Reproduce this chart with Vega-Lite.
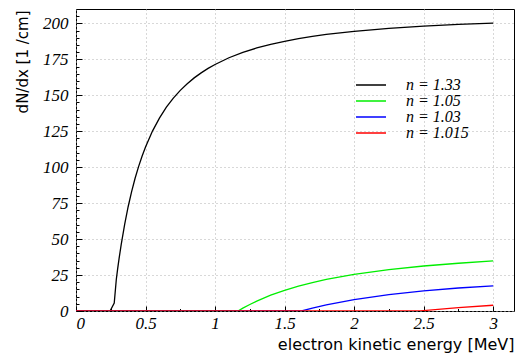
{
  "$schema": "https://vega.github.io/schema/vega-lite/v6.json",
  "width": 438,
  "height": 302,
  "autosize": {"type": "none"},
  "padding": {"left": 76, "top": 9, "right": 1, "bottom": 44},
  "background": "white",
  "config": {
    "view": {"stroke": "#000000", "strokeWidth": 1},
    "axis": {
      "titleFont": "DejaVu Sans",
      "titleFontWeight": "normal",
      "titleColor": "#000000",
      "domain": false,
      "tickColor": "#000000",
      "gridColor": "#b0b0b0",
      "gridDash": [1, 3],
      "gridWidth": 1
    }
  },
  "data": {
    "values": [
      {"n": "n = 1.33", "T": 0.0, "N": 0},
      {"n": "n = 1.33", "T": 0.245, "N": 0},
      {"n": "n = 1.33", "T": 0.275, "N": 5.5},
      {"n": "n = 1.33", "T": 0.29, "N": 22.1},
      {"n": "n = 1.33", "T": 0.3, "N": 29.6},
      {"n": "n = 1.33", "T": 0.31, "N": 36.6},
      {"n": "n = 1.33", "T": 0.325, "N": 46.2},
      {"n": "n = 1.33", "T": 0.35, "N": 60.3},
      {"n": "n = 1.33", "T": 0.375, "N": 72.5},
      {"n": "n = 1.33", "T": 0.4, "N": 83.0},
      {"n": "n = 1.33", "T": 0.425, "N": 92.3},
      {"n": "n = 1.33", "T": 0.45, "N": 100.4},
      {"n": "n = 1.33", "T": 0.475, "N": 107.6},
      {"n": "n = 1.33", "T": 0.5, "N": 114.1},
      {"n": "n = 1.33", "T": 0.55, "N": 125.1},
      {"n": "n = 1.33", "T": 0.6, "N": 134.1},
      {"n": "n = 1.33", "T": 0.65, "N": 141.7},
      {"n": "n = 1.33", "T": 0.7, "N": 148.0},
      {"n": "n = 1.33", "T": 0.75, "N": 153.4},
      {"n": "n = 1.33", "T": 0.8, "N": 158.0},
      {"n": "n = 1.33", "T": 0.85, "N": 162.1},
      {"n": "n = 1.33", "T": 0.9, "N": 165.6},
      {"n": "n = 1.33", "T": 0.95, "N": 168.7},
      {"n": "n = 1.33", "T": 1.0, "N": 171.4},
      {"n": "n = 1.33", "T": 1.1, "N": 176.1},
      {"n": "n = 1.33", "T": 1.2, "N": 179.8},
      {"n": "n = 1.33", "T": 1.3, "N": 182.9},
      {"n": "n = 1.33", "T": 1.4, "N": 185.4},
      {"n": "n = 1.33", "T": 1.5, "N": 187.5},
      {"n": "n = 1.33", "T": 1.6, "N": 189.4},
      {"n": "n = 1.33", "T": 1.7, "N": 190.9},
      {"n": "n = 1.33", "T": 1.8, "N": 192.3},
      {"n": "n = 1.33", "T": 2.0, "N": 194.5},
      {"n": "n = 1.33", "T": 2.25, "N": 196.5},
      {"n": "n = 1.33", "T": 2.5, "N": 198.1},
      {"n": "n = 1.33", "T": 2.75, "N": 199.3},
      {"n": "n = 1.33", "T": 3.0, "N": 200.2},
      {"n": "n = 1.05", "T": 0.0, "N": 0},
      {"n": "n = 1.05", "T": 1.165, "N": 0},
      {"n": "n = 1.05", "T": 1.2, "N": 2.0},
      {"n": "n = 1.05", "T": 1.25, "N": 4.5},
      {"n": "n = 1.05", "T": 1.3, "N": 6.9},
      {"n": "n = 1.05", "T": 1.4, "N": 11.0},
      {"n": "n = 1.05", "T": 1.5, "N": 14.4},
      {"n": "n = 1.05", "T": 1.6, "N": 17.3},
      {"n": "n = 1.05", "T": 1.7, "N": 19.8},
      {"n": "n = 1.05", "T": 1.8, "N": 22.0},
      {"n": "n = 1.05", "T": 2.0, "N": 25.5},
      {"n": "n = 1.05", "T": 2.25, "N": 28.8},
      {"n": "n = 1.05", "T": 2.5, "N": 31.3},
      {"n": "n = 1.05", "T": 2.75, "N": 33.2},
      {"n": "n = 1.05", "T": 3.0, "N": 34.8},
      {"n": "n = 1.03", "T": 0.0, "N": 0},
      {"n": "n = 1.03", "T": 1.622, "N": 0},
      {"n": "n = 1.03", "T": 1.7, "N": 2.0},
      {"n": "n = 1.03", "T": 1.8, "N": 4.2},
      {"n": "n = 1.03", "T": 2.0, "N": 7.9},
      {"n": "n = 1.03", "T": 2.25, "N": 11.4},
      {"n": "n = 1.03", "T": 2.5, "N": 14.0},
      {"n": "n = 1.03", "T": 2.75, "N": 16.0},
      {"n": "n = 1.03", "T": 3.0, "N": 17.5},
      {"n": "n = 1.015", "T": 0.0, "N": 0},
      {"n": "n = 1.015", "T": 2.472, "N": 0},
      {"n": "n = 1.015", "T": 2.5, "N": 0.3},
      {"n": "n = 1.015", "T": 2.75, "N": 2.3},
      {"n": "n = 1.015", "T": 3.0, "N": 4.0}
    ]
  },
  "layer": [
    {
      "mark": {"type": "point", "opacity": 0},
      "encoding": {
        "x": {
          "field": "T", "type": "quantitative",
          "scale": {"domain": [0, 3.15], "nice": false, "zero": false},
          "axis": {
            "orient": "bottom",
            "values": [0.25, 0.75, 1.25, 1.75, 2.25, 2.75],
            "labels": false,
            "grid": false,
            "tickSize": -2.5,
            "title": null
          }
        },
        "y": {
          "field": "N", "type": "quantitative",
          "scale": {"domain": [0, 210], "nice": false},
          "axis": {
            "orient": "left",
            "values": [5, 10, 15, 20, 30, 35, 40, 45, 55, 60, 65, 70, 80, 85, 90, 95, 105, 110, 115, 120, 130, 135, 140, 145, 155, 160, 165, 170, 180, 185, 190, 195, 205, 210],
            "labels": false,
            "grid": false,
            "tickSize": -3,
            "title": null
          }
        }
      }
    },
    {
      "mark": {"type": "line", "strokeWidth": 1.3, "clip": true},
      "encoding": {
        "x": {
          "field": "T", "type": "quantitative",
          "axis": {
            "orient": "bottom",
            "values": [0, 0.5, 1, 1.5, 2, 2.5, 3],
            "format": "~g",
            "tickSize": -5,
            "labelPadding": 9,
            "labelFont": "Liberation Serif",
            "labelFontStyle": "italic",
            "labelFontSize": 17,
            "labelColor": "#000000",
            "grid": true,
            "title": "electron kinetic energy [MeV]",
            "titleFontSize": 16,
            "titleAnchor": "end",
            "titleAlign": "right",
            "titleBaseline": "alphabetic",
            "titleX": 438,
            "titleY": 38
          }
        },
        "y": {
          "field": "N", "type": "quantitative",
          "axis": {
            "orient": "left",
            "values": [0, 25, 50, 75, 100, 125, 150, 175, 200],
            "tickSize": -6,
            "labelPadding": 14,
            "labelFont": "Liberation Serif",
            "labelFontStyle": "italic",
            "labelFontSize": 17,
            "labelColor": "#000000",
            "grid": true,
            "title": "dN/dx [1 /cm]",
            "titleFontSize": 15,
            "titleAngle": -90,
            "titleAlign": "right",
            "titleBaseline": "middle",
            "titleX": -54,
            "titleY": 1
          }
        },
        "color": {
          "field": "n", "type": "nominal",
          "sort": ["n = 1.33", "n = 1.05", "n = 1.03", "n = 1.015"],
          "scale": {
            "domain": ["n = 1.33", "n = 1.05", "n = 1.03", "n = 1.015"],
            "range": ["#000000", "#00ee00", "#0000ff", "#ff0000"]
          },
          "legend": {
            "orient": "none",
            "legendX": 287,
            "legendY": 68,
            "title": null,
            "padding": 0,
            "symbolType": "M-3,0H3",
            "symbolSize": 100,
            "symbolStrokeWidth": 1.5,
            "labelFont": "Liberation Serif",
            "labelFontStyle": "italic",
            "labelFontSize": 16,
            "labelColor": "#000000",
            "labelOffset": 27,
            "rowPadding": -1
          }
        }
      }
    }
  ],
  "resolve": {"axis": {"x": "independent", "y": "independent"}}
}
